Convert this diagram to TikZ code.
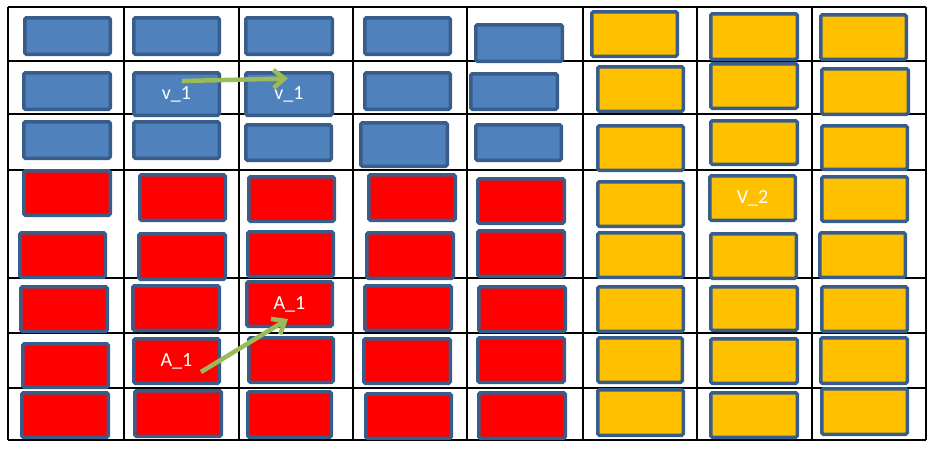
\documentclass[tikz,border=0pt]{standalone}
\usepackage{fontspec}
\setmainfont{Carlito}
\usetikzlibrary{arrows.meta}
\definecolor{bfill}{HTML}{4F81BD}
\definecolor{rfill}{HTML}{FF0000}
\definecolor{yfill}{HTML}{FFC000}
\definecolor{edgeblue}{HTML}{385D8A}
\definecolor{agreen}{HTML}{9BBB59}
\tikzset{
  cellbox/.style={draw=edgeblue, line width=3.5pt, rounded corners=1.5pt, inner sep=0pt,
    text=white, font=\fontsize{20}{20}\selectfont},
  bluebox/.style={cellbox, fill=bfill},
  redbox/.style={cellbox, fill=rfill},
  yellowbox/.style={cellbox, fill=yfill},
  gridline/.style={draw=black, line width=1.3pt},
  greenarrow/.style={draw=agreen, line width=4.5pt, -{Straight Barb[length=11pt,width=18pt]}}
}
\newcommand{\bx}[7]{%
  \node[#2, minimum width={(#5-#3-3.5)*1pt}, minimum height={(#6-#4-3.5)*1pt}]
    (#1) at ({(#3+#5)/2},{(#4+#6)/2}) {#7};}
\begin{document}
\begin{tikzpicture}[x=1pt,y=-1pt]
\useasboundingbox (0,0) rectangle (938,451);
% grid
\foreach \gx in {8,124,239,353,467,583,697,812,926}
  \draw[gridline] (\gx,7) -- (\gx,440);
\foreach \gy in {7,61,114,170,278,333,388,440}
  \draw[gridline] (8,\gy) -- (926,\gy);
% row 1
\bx{b11}{bluebox}{23}{16}{112}{56}{}
\bx{b12}{bluebox}{132}{16}{221}{56}{}
\bx{b13}{bluebox}{244}{16}{334}{56}{}
\bx{b14}{bluebox}{363}{16}{452}{56}{}
\bx{b15}{bluebox}{474}{23}{564}{63}{}
\bx{y16}{yellowbox}{590}{10}{679}{58}{}
\bx{y17}{yellowbox}{709}{12}{799}{61}{}
\bx{y18}{yellowbox}{819}{13}{908}{61}{}
% row 2
\bx{b21}{bluebox}{22}{71}{112}{111}{}
\bx{b22}{bluebox}{132}{71}{221}{117}{v\_1}
\bx{b23}{bluebox}{244}{71}{334}{117}{v\_1}
\bx{b24}{bluebox}{363}{71}{452}{111}{}
\bx{b25}{bluebox}{469}{72}{559}{111}{}
\bx{y26}{yellowbox}{596}{65}{685}{113}{}
\bx{y27}{yellowbox}{709}{62}{799}{110}{}
\bx{y28}{yellowbox}{820}{67}{910}{116}{}
% row 3
\bx{b31}{bluebox}{22}{120}{112}{160}{}
\bx{b32}{bluebox}{132}{120}{221}{160}{}
\bx{b33}{bluebox}{244}{123}{333}{162}{}
\bx{b34}{bluebox}{359}{121}{449}{168}{}
\bx{b35}{bluebox}{474}{123}{563}{162}{}
\bx{y36}{yellowbox}{596}{124}{685}{172}{}
\bx{y37}{yellowbox}{709}{119}{799}{166}{}
\bx{y38}{yellowbox}{820}{124}{909}{171}{}
% row 4
\bx{r41}{redbox}{22}{169}{112}{217}{}
\bx{r42}{redbox}{138}{173}{227}{222}{}
\bx{r43}{redbox}{247}{175}{336}{223}{}
\bx{r44}{redbox}{367}{173}{457}{222}{}
\bx{r45}{redbox}{476}{177}{566}{225}{}
\bx{y46}{yellowbox}{596}{180}{685}{228}{}
\bx{y47}{yellowbox}{708}{174}{797}{222}{V\_2}
\bx{y48}{yellowbox}{820}{175}{909}{223}{}
% row 5
\bx{r51}{redbox}{18}{231}{107}{279}{}
\bx{r52}{redbox}{137}{232}{227}{281}{}
\bx{r53}{redbox}{246}{230}{335}{278}{}
\bx{r54}{redbox}{365}{231}{455}{280}{}
\bx{r55}{redbox}{476}{229}{566}{278}{}
\bx{y56}{yellowbox}{596}{231}{685}{279}{}
\bx{y57}{yellowbox}{709}{232}{798}{280}{}
\bx{y58}{yellowbox}{818}{231}{907}{279}{}
% row 6
\bx{r61}{redbox}{19}{285}{109}{333}{}
\bx{r62}{redbox}{131}{284}{221}{332}{}
\bx{r63}{redbox}{245}{280}{334}{328}{A\_1}
\bx{r64}{redbox}{363}{284}{453}{332}{}
\bx{r65}{redbox}{477}{285}{567}{333}{}
\bx{y66}{yellowbox}{596}{285}{685}{333}{}
\bx{y67}{yellowbox}{709}{285}{799}{332}{}
\bx{y68}{yellowbox}{820}{285}{909}{333}{}
% row 7
\bx{r71}{redbox}{21}{342}{110}{389}{}
\bx{r72}{redbox}{132}{337}{221}{385}{A\_1}
\bx{r73}{redbox}{247}{336}{335}{384}{}
\bx{r74}{redbox}{362}{337}{452}{385}{}
\bx{r75}{redbox}{476}{336}{566}{384}{}
\bx{y76}{yellowbox}{596}{336}{684}{384}{}
\bx{y77}{yellowbox}{709}{337}{799}{385}{}
\bx{y78}{yellowbox}{819}{336}{909}{385}{}
% row 8
\bx{r81}{redbox}{20}{391}{110}{439}{}
\bx{r82}{redbox}{133}{389}{223}{438}{}
\bx{r83}{redbox}{246}{390}{333}{439}{}
\bx{r84}{redbox}{364}{392}{453}{440}{}
\bx{r85}{redbox}{477}{391}{567}{440}{}
\bx{y86}{yellowbox}{596}{388}{685}{437}{}
\bx{y87}{yellowbox}{709}{391}{799}{439}{}
\bx{y88}{yellowbox}{820}{387}{909}{436}{}
% arrows
\coordinate (a1s) at (182,81);
\coordinate (a1e) at (288,78.5);
\coordinate (a2s) at (201,372);
\coordinate (a2e) at (288,319);
\draw[greenarrow] (a1s) -- (a1e);
\draw[greenarrow] (a2s) -- (a2e);
\end{tikzpicture}
\end{document}
